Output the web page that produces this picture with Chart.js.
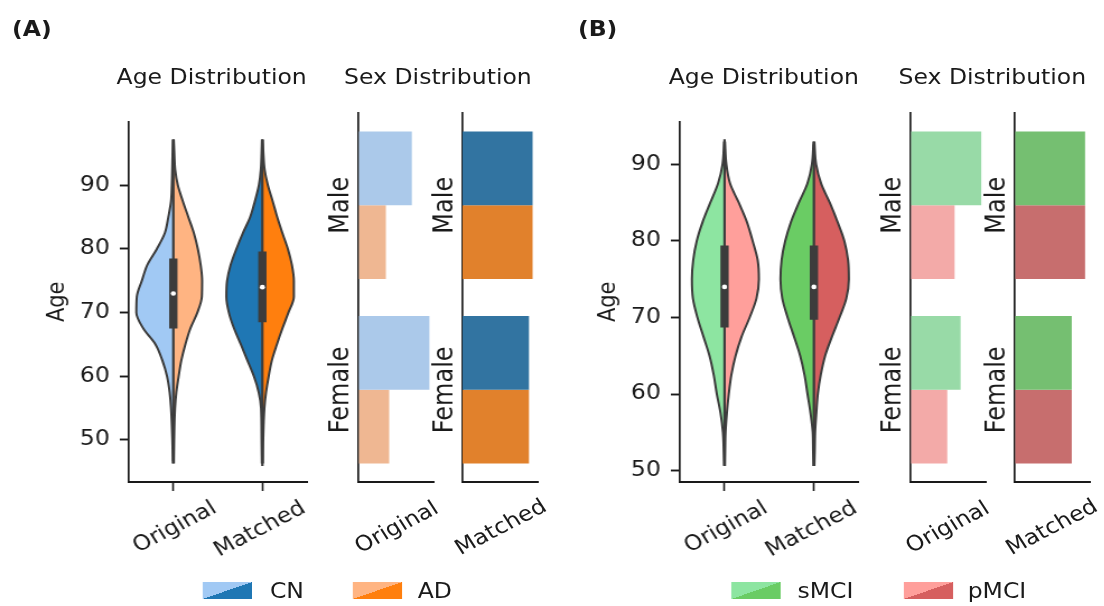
<!DOCTYPE html>
<html>
<head>
<meta charset="utf-8">
<script src="https://cdn.jsdelivr.net/npm/chart.js@4.4.1/dist/chart.umd.min.js"></script>
<style>
  body { margin: 0; background: #fff; }
  /* the reference is a little wider than tall, so the whole figure is stretched horizontally */
  #fig { position: absolute; left: 0; top: 0; width: 986px; height: 606px;
         transform: scaleX(1.12); transform-origin: 0 0;
         font-family: "DejaVu Sans", sans-serif; color: #1a1a1a; }
  #fig canvas { position: absolute; }
  .t { position: absolute; font-size: 21px; line-height: 1; white-space: nowrap; }
  .c { transform: translateX(-50%); }
  .rot { transform: translate(-50%, -50%) rotate(-30deg); }
  .ico { position: absolute; width: 44px; height: 17px; }
</style>
</head>
<body>
<div id="fig">
  <div class="t" style="left:10.7px;top:18.9px;font-weight:bold">(A)</div>
  <div class="t" style="left:516px;top:18.9px;font-weight:bold">(B)</div>

  <div class="t c" style="left:189px;top:67.2px">Age Distribution</div>
  <div class="t c" style="left:391px;top:67.2px">Sex Distribution</div>
  <div class="t c" style="left:682px;top:67.2px">Age Distribution</div>
  <div class="t c" style="left:886px;top:67.2px">Sex Distribution</div>

  <canvas id="violinA" width="280" height="480" style="left:14.6px;top:100px"></canvas>
  <canvas id="sexOrigA" width="120" height="400" style="left:275.9px;top:100px"></canvas>
  <canvas id="sexMatchA" width="120" height="400" style="left:369.4px;top:100px"></canvas>
  <canvas id="violinB" width="280" height="480" style="left:506.5px;top:100px"></canvas>
  <canvas id="sexOrigB" width="120" height="400" style="left:768.5px;top:100px"></canvas>
  <canvas id="sexMatchB" width="120" height="400" style="left:861.6px;top:100px"></canvas>

  <div class="t rot" style="left:353.7px;top:527px">Original</div>
  <div class="t rot" style="left:446.9px;top:527px">Matched</div>
  <div class="t rot" style="left:846px;top:527px">Original</div>
  <div class="t rot" style="left:939.4px;top:527px">Matched</div>

  <div class="ico" style="left:181.3px;top:582px;background:linear-gradient(to bottom right,#a1c9f4 50%,#1f77b4 50%)"></div>
  <div class="t" style="left:241px;top:580.5px">CN</div>
  <div class="ico" style="left:315.2px;top:582px;background:linear-gradient(to bottom right,#ffb482 50%,#ff7f0e 50%)"></div>
  <div class="t" style="left:373px;top:580.5px">AD</div>
  <div class="ico" style="left:653.3px;top:582px;background:linear-gradient(to bottom right,#8de5a1 50%,#6acc64 50%)"></div>
  <div class="t" style="left:712px;top:580.5px">sMCI</div>
  <div class="ico" style="left:807.1px;top:582px;background:linear-gradient(to bottom right,#ff9f9b 50%,#d65f5f 50%)"></div>
  <div class="t" style="left:864px;top:580.5px">pMCI</div>
</div>

<script>
// Categories
const groupLabels = ["Original", "Matched"];
const sexLabels = ["Male", "Female"];
const ageTicks = [50, 60, 70, 80, 90];

// Panel A: CN vs AD, half-violin widths (relative density) at each age
const agesA = [46.3, 50, 55, 57.5, 60, 62.5, 65, 67.5, 70, 72.5, 75, 77.5, 80, 82.5, 85, 87.5, 90, 92.5, 95, 97.2];
const cnOrigA = [0.5, 1, 2.3, 3.7, 6.3, 11, 17.8, 30, 37, 36.5, 31.5, 26, 16.5, 8.5, 5, 2.3, 1.5, 1.1, 0.8, 0.4];
const adOrigA = [0.5, 0.8, 1.7, 3, 5.3, 8, 12, 17, 24, 28.5, 28.8, 27.3, 24.5, 20.5, 15, 9.5, 4.5, 1.8, 1, 0.4];
const cnMatchA = [0.5, 0.8, 1.3, 3.7, 8.5, 15, 21.5, 28.3, 33.5, 36, 35.3, 31.7, 26, 19.5, 12.2, 7.5, 3.5, 1.5, 0.8, 0.4];
const adMatchA = [0.5, 0.8, 2, 3.7, 6.3, 9.5, 14.5, 20, 26, 31.5, 31.5, 29.5, 25.5, 20, 14.8, 10.3, 5.5, 2.2, 1, 0.4];
// box stats [Original, Matched]
const q1A = [67.5, 68.5];
const medianA = [73.0, 74.0];
const q3A = [78.5, 79.6];
const lowA = [46.7, 45.9];
const highA = [97.2, 97.2];
// sex counts [Male, Female]
const cnSexOrigA = [340, 452];
const adSexOrigA = [175, 196];
const cnSexMatchA = [175, 166];
const adSexMatchA = [175, 166];

// Panel B: sMCI vs pMCI
const agesB = [50.6, 52.5, 55, 57.5, 60, 62.5, 65, 67.5, 70, 72.5, 75, 77.5, 80, 82.5, 85, 87.5, 90, 93];
const smciOrigB = [0.4, 0.8, 1.6, 4, 7.7, 10.8, 15, 21, 27, 31.5, 32.5, 31.2, 27.7, 21.8, 14.2, 6.5, 2, 0.4];
const pmciOrigB = [0.4, 0.6, 1, 2.3, 4.2, 6.8, 11, 17, 25, 31.8, 34.2, 33, 28, 22.2, 14.2, 5.5, 1.8, 0.4];
const smciMatchB = [0.4, 0.8, 1.2, 3.4, 6.4, 9.4, 13.7, 19.8, 26.2, 31.5, 33.3, 32.2, 28.6, 22.8, 15, 6.5, 2, 0.4];
const pmciMatchB = [0.4, 0.8, 1.2, 2.4, 3.9, 6.8, 11.2, 18, 25.5, 32.3, 34.8, 34, 30.3, 23.5, 15.8, 7.2, 2.2, 0.4];
const q1B = [68.7, 69.7];
const medianB = [74.0, 74.0];
const q3B = [79.4, 79.4];
const lowB = [50.7, 50.6];
const highB = [93.3, 92.6];
const smciSexOrigB = [212, 150];
const pmciSexOrigB = [132, 110];
const smciSexMatchB = [132, 107];
const pmciSexMatchB = [132, 107];

// density -> width in category units
const DENS = 1 / 89;
const INK = "#1a1a1a";
const EDGE = "#3c3c3c";

Chart.defaults.font.family = "'DejaVu Sans', sans-serif";
Chart.defaults.font.size = 21;
Chart.defaults.color = INK;

function halfViolin(ages, dens, center, side, color) {
    return {
        data: ages.map((a, k) => ({ x: center + side * dens[k] * DENS, y: a })),
        backgroundColor: color,
        borderColor: EDGE,
        borderWidth: 2,
        pointRadius: 0,
        cubicInterpolationMode: "monotone",
        fill: { value: center },
        order: 3
    };
}

function boxParts(i, q1, med, q3, low, high) {
    return [
        { data: [{ x: i, y: low[i] }, { x: i, y: high[i] }], borderColor: EDGE, borderWidth: 2.2, pointRadius: 0, fill: false, order: 2 },
        { data: [{ x: i, y: q1[i] }, { x: i, y: q3[i] }], borderColor: EDGE, borderWidth: 7.4, pointRadius: 0, fill: false, order: 1 },
        { data: [{ x: i, y: med[i] }], showLine: false, pointRadius: 2.3, pointBorderWidth: 0, pointBackgroundColor: "#fff", fill: false, order: 0 }
    ];
}

function violinChart(id, p) {
    const datasets = [
        halfViolin(p.ages, p.leftOrig, 0, -1, p.colors[0]),
        halfViolin(p.ages, p.rightOrig, 0, 1, p.colors[1]),
        halfViolin(p.ages, p.leftMatch, 1, -1, p.colors[2]),
        halfViolin(p.ages, p.rightMatch, 1, 1, p.colors[3]),
        ...boxParts(0, p.q1, p.med, p.q3, p.low, p.high),
        ...boxParts(1, p.q1, p.med, p.q3, p.low, p.high)
    ];
    new Chart(document.getElementById(id), {
        type: "line",
        data: { datasets },
        options: {
            indexAxis: "y",
            responsive: false,
            animation: false,
            layout: { padding: { top: 13, right: p.padRight, left: 0, bottom: 0 } },
            plugins: { legend: { display: false }, tooltip: { enabled: false } },
            scales: {
                x: {
                    type: "linear", min: -0.5, max: 1.5,
                    afterBuildTicks: s => { s.ticks = groupLabels.map((_, i) => ({ value: i })); },
                    afterFit: s => { s.height = 98; },
                    ticks: { callback: (v, i) => groupLabels[i], minRotation: 30, maxRotation: 30, labelOffset: 37, padding: 5 },
                    grid: { drawOnChartArea: false, tickLength: 9, tickColor: INK, tickWidth: 1.6 },
                    border: { color: INK, width: 1.9 }
                },
                y: {
                    type: "linear", min: p.yMin, max: p.yMax,
                    afterBuildTicks: s => { s.ticks = ageTicks.map(v => ({ value: v })); },
                    afterFit: s => { s.width = 100; },
                    ticks: { padding: 9 },
                    grid: { drawOnChartArea: false, tickLength: 8, tickColor: INK, tickWidth: 1.9 },
                    border: { color: INK, width: 1.7 },
                    title: { display: true, text: "Age", padding: { top: 23.7, bottom: 0 } }
                }
            }
        }
    });
}

function sexChart(id, first, second, colors, xMax, padRight) {
    new Chart(document.getElementById(id), {
        type: "bar",
        data: {
            labels: sexLabels,
            datasets: [
                { data: first, backgroundColor: colors[0] },
                { data: second, backgroundColor: colors[1] }
            ]
        },
        options: {
            indexAxis: "y",
            responsive: false,
            animation: false,
            categoryPercentage: 0.8,
            barPercentage: 1.0,
            layout: { padding: { top: 13, right: padRight, left: 0, bottom: 0 } },
            plugins: { legend: { display: false }, tooltip: { enabled: false } },
            scales: {
                x: {
                    min: 0, max: xMax,
                    afterFit: s => { s.height = 18; },
                    ticks: { display: false },
                    grid: { drawOnChartArea: false, drawTicks: false },
                    border: { color: INK, width: 1.9 }
                },
                y: {
                    afterFit: s => { s.width = 44; },
                    ticks: { minRotation: 90, maxRotation: 90, crossAlign: "center", padding: -28, font: { size: 24 } },
                    grid: { drawOnChartArea: false, drawTicks: false },
                    border: { color: INK, width: 1.7 }
                }
            }
        }
    });
}

violinChart("violinA", {
    ages: agesA, leftOrig: cnOrigA, rightOrig: adOrigA, leftMatch: cnMatchA, rightMatch: adMatchA,
    q1: q1A, med: medianA, q3: q3A, low: lowA, high: highA,
    colors: ["#a1c9f4", "#ffb482", "#1f77b4", "#ff7f0e"],
    yMin: 43.4, yMax: 100, padRight: 21
});
sexChart("sexOrigA", cnSexOrigA, adSexOrigA, ["#abc9ea", "#efb792"], 482, 8.4);
sexChart("sexMatchA", cnSexMatchA, adSexMatchA, ["#3274a1", "#e1812c"], 187.5, 9);

violinChart("violinB", {
    ages: agesB, leftOrig: smciOrigB, rightOrig: pmciOrigB, leftMatch: smciMatchB, rightMatch: pmciMatchB,
    q1: q1B, med: medianB, q3: q3B, low: lowB, high: highB,
    colors: ["#8de5a1", "#ff9f9b", "#6acc64", "#d65f5f"],
    yMin: 48.5, yMax: 95.6, padRight: 20.4
});
sexChart("sexOrigB", smciSexOrigB, pmciSexOrigB, ["#98daa7", "#f3aaa8"], 225, 9);
sexChart("sexMatchB", smciSexMatchB, pmciSexMatchB, ["#75bf71", "#c76e6e"], 142, 8.4);
</script>
</body>
</html>
